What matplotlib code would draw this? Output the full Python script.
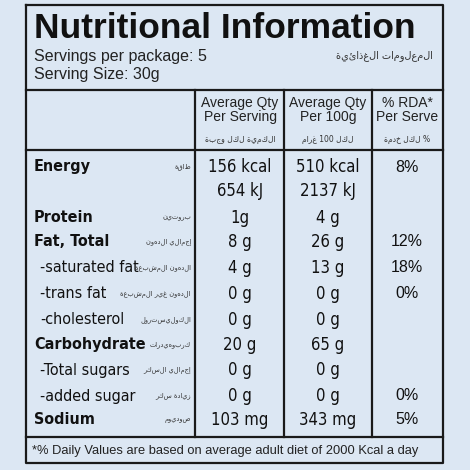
import matplotlib
matplotlib.use('Agg')
import matplotlib.pyplot as plt

# ── data ────────────────────────────────────────────
title = 'Nutritional Information'
servings = 'Servings per package: 5'
size = 'Serving Size: 30g'
title_ar = 'المعلومات الغذائية'
headers = ['Average Qty\nPer Serving', 'Average Qty\nPer 100g', '% RDA*\nPer Serve']
headers_ar = ['الكمية لكل وجبة', 'لكل 100 غرام', '% لكل خدمة']
names = ['Energy', '', 'Protein', 'Fat, Total', '-saturated fat', '-trans fat',
         '-cholesterol', 'Carbohydrate', '-Total sugars', '-added sugar', 'Sodium']
names_ar = ['طاقة', '', 'بروتين', 'إجمالي الدهون', 'الدهون المشبعة', 'الدهون غير المشبعة',
            'الكوليسترول', 'كربوهيدرات', 'إجمالي السكر', 'زيادة سكر', 'صوديوم']
bold = [True, False, True, True, False, False, False, True, False, False, True]
per_serving = ['156 kcal', '654 kJ', '1g', '8 g', '4 g', '0 g', '0 g', '20 g', '0 g', '0 g', '103 mg']
per_100g = ['510 kcal', '2137 kJ', '4 g', '26 g', '13 g', '0 g', '0 g', '65 g', '0 g', '0 g', '343 mg']
rda = ['8%', '', '', '12%', '18%', '0%', '', '', '', '0%', '5%']
footnote = '*% Daily Values are based on average adult diet of 2000 Kcal a day'

row_y = [167, 191, 218, 242, 268, 294, 320, 345, 370, 396, 420]

SANS = ['Liberation Sans', 'DejaVu Sans']
AR = ['DejaVu Sans']

def rtl(s):
    # visual order for right-to-left text, keeping numbers readable
    words = s.split(' ')[::-1]
    return ' '.join(w if w.isdigit() else w[::-1] for w in words)

def cond(**kw):
    return dict(family='DejaVu Sans', fontstretch='condensed', **kw)

fig = plt.figure(figsize=(4.7, 4.7), dpi=100)
fig.patch.set_facecolor('#dce7f3')
ax = fig.add_axes([0, 0, 1, 1])
ax.set_xlim(0, 470)
ax.set_ylim(470, 0)
ax.axis('off')

lc = '#1a1a1a'
ax.plot([26, 443, 443, 26, 26], [5, 5, 463, 463, 5], color=lc, lw=1.6)
ax.plot([26, 443], [90, 90], color=lc, lw=1.6)
ax.plot([26, 443], [150, 150], color=lc, lw=1.6)
ax.plot([26, 443], [437, 437], color=lc, lw=1.6)
for x in [195, 284, 372]:
    ax.plot([x, x], [90, 437], color=lc, lw=1.6)

ax.text(34, 29, title, fontsize=25.5, fontweight='bold', family=SANS, va='center', color='#111')
ax.text(34, 56, servings, fontsize=11.5, family=SANS, va='center', color='#222')
ax.text(34, 75, size, fontsize=11.5, family=SANS, va='center', color='#222')
ax.text(433, 56, rtl(title_ar), fontsize=7, family=AR, va='center', ha='right', color='#333')

cols = [240, 328, 407]
for cx, h, ha in zip(cols, headers, headers_ar):
    ax.text(cx, 110, h, fontsize=10, family=SANS, ha='center', va='center',
            color='#222', linespacing=1.0)
    ax.text(cx, 139, rtl(ha), fontsize=5.5, family=AR, ha='center', va='center', color='#333')

for y, n, na, b, a, c, r in zip(row_y, names, names_ar, bold, per_serving, per_100g, rda):
    x0 = 34 if b else 40
    ax.text(x0, y, n, fontsize=11.5, va='center',
            fontweight='bold' if b else 'normal', color='#111', **cond())
    if na:
        ax.text(191, y, rtl(na), fontsize=4.8, family=AR, va='center', ha='right', color='#333')
    ax.text(240, y, a, fontsize=12, va='center', ha='center', color='#111', **cond())
    ax.text(328, y, c, fontsize=12, va='center', ha='center', color='#111', **cond())
    if r:
        ax.text(407, y, r, fontsize=11.5, family=SANS, va='center', ha='center', color='#111')

ax.text(32, 451, footnote, fontsize=9.3, family=SANS, va='center', color='#222')

fig.savefig('out.png', dpi=100, facecolor=fig.get_facecolor())
